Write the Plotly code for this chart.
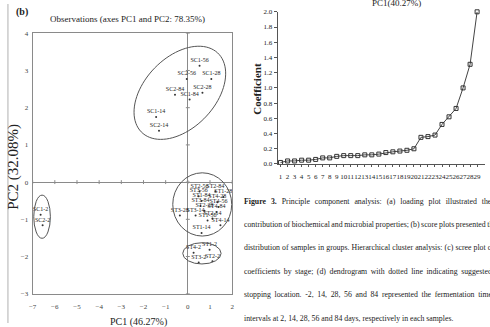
import numpy as np
import plotly.graph_objects as go

# ---------------- data ----------------
sample_labels = [
    "SC1-56", "SC2-56", "SC1-28", "SC2-28", "SC2-84", "SC1-84", "SC1-14", "SC2-14",
    "SC1-2", "SC2-2",
    "ST2-56", "ST2-84", "ST3-56", "ST1-28", "ST1-84", "ST4-28", "ST3-84", "ST4-56",
    "ST2-28", "ST4-84", "ST3-28", "ST3-14", "ST2-14", "ST1-56", "ST4-14", "ST1-14",
    "ST4-2", "ST1-2", "ST3-2", "ST2-2",
]
pc1_scores = [
    0.53, -0.05, 1.06, 0.66, -0.58, 0.08, -1.43, -1.30,
    -6.64, -6.55,
    0.53, 1.24, 0.49, 1.60, 0.62, 1.33, 0.57, 1.38,
    0.75, 1.29, -0.36, 0.35, 1.11, 0.89, 1.47, 0.62,
    0.26, 0.98, 0.49, 1.11,
]
pc2_scores = [
    3.13, 2.77, 2.77, 2.40, 2.35, 2.22, 1.75, 1.38,
    -0.88, -1.16,
    -0.25, -0.25, -0.38, -0.40, -0.51, -0.54, -0.64, -0.67,
    -0.77, -0.80, -0.90, -0.90, -0.98, -1.03, -1.16, -1.37,
    -1.90, -1.82, -2.16, -2.13,
]

stage = list(range(1, 30))
coefficient = [0.02, 0.04, 0.04, 0.05, 0.05, 0.06, 0.08, 0.08, 0.10, 0.11,
               0.11, 0.11, 0.12, 0.12, 0.13, 0.15, 0.16, 0.17, 0.18, 0.20,
               0.35, 0.36, 0.38, 0.52, 0.62, 0.73, 1.00, 1.31, 2.00]

x_ticks_left = list(range(-7, 3))
y_ticks_left = list(range(-3, 5))
y_ticks_right = [0.0, 0.2, 0.4, 0.6, 0.8, 1.0, 1.2, 1.4, 1.6, 1.8, 2.0]

caption_lines = [
    "<b>Figure 3.</b> Principle component analysis: (a) loading plot illustrated the",
    "contribution of biochemical and microbial properties; (b) score plots presented the",
    "distribution of samples in groups. Hierarchical cluster analysis: (c) scree plot of",
    "coefficients by stage; (d) dendrogram with dotted line indicating suggested",
    "stopping location. -2, 14, 28, 56 and 84 represented the fermentation time",
    "intervals at 2, 14, 28, 56 and 84 days, respectively in each samples.",
]

# ---------------- layout geometry ----------------
W, H = 490, 327
SERIF = "Liberation Serif, Times New Roman, serif"
GRAY = "#8a8a8a"
INK = "#222222"

xl_dom = [29 / W, 231 / W]
yl_dom = [1 - 297 / H, 1 - 30 / H]
xl_rng = [-7, 2]
yl_rng = [-3, 4]
px_x = (xl_dom[1] - xl_dom[0]) * W / (xl_rng[1] - xl_rng[0])
px_y = (yl_dom[1] - yl_dom[0]) * H / (yl_rng[1] - yl_rng[0])

xr_dom = [277 / W, 487 / W]
yr_dom = [1 - 164 / H, 1 - 8 / H]

fig = go.Figure()

# score plot
fig.add_trace(go.Scatter(
    x=pc1_scores, y=pc2_scores, text=sample_labels,
    mode="markers+text", textposition="top center",
    marker=dict(size=2, color="#333333"),
    textfont=dict(family=SERIF, size=6, color=INK),
    xaxis="x", yaxis="y", showlegend=False, cliponaxis=False,
))

# scree plot
fig.add_trace(go.Scatter(
    x=stage, y=coefficient, mode="lines+markers",
    line=dict(color="#444444", width=1),
    marker=dict(symbol="square-open", size=4, color="#333333", line=dict(width=1)),
    xaxis="x2", yaxis="y2", showlegend=False, cliponaxis=False,
))

shapes = []

# small cross ticks along the zero lines
for v in y_ticks_left:
    shapes.append(dict(type="line", xref="x", yref="y", x0=-2 / px_x, x1=2 / px_x,
                       y0=v, y1=v, line=dict(color=GRAY, width=1)))
for v in x_ticks_left:
    shapes.append(dict(type="line", xref="x", yref="y", x0=v, x1=v,
                       y0=-2 / px_y, y1=2 / px_y, line=dict(color=GRAY, width=1)))

# group ellipses (axis-aligned): x0, x1, y0, y1 in data units
ellipses = [
    (-6.95, -6.20, -0.35, -1.51),
    (-0.68, 1.98, 0.25, -1.45),
    (-0.23, 1.50, -1.63, -2.20),
]
for x0, x1, y0, y1 in ellipses:
    shapes.append(dict(type="circle", xref="x", yref="y", x0=x0, x1=x1, y0=y0, y1=y1,
                       line=dict(color="#555555", width=1)))

# tilted ellipse around the SC 14-84 group
cx, cy, a_px, b_px, ang = -0.36, 2.40, 56, 36, np.deg2rad(47)
t = np.linspace(0, 2 * np.pi, 90)
ex = cx + (a_px * np.cos(t) * np.cos(ang) - b_px * np.sin(t) * np.sin(ang)) / px_x
ey = cy + (a_px * np.cos(t) * np.sin(ang) + b_px * np.sin(t) * np.cos(ang)) / px_y
path = "M " + " L ".join(f"{a:.4f},{b:.4f}" for a, b in zip(ex, ey)) + " Z"
shapes.append(dict(type="path", xref="x", yref="y", path=path,
                   line=dict(color="#555555", width=1)))

# outer frame line on the far left
shapes.append(dict(type="line", xref="paper", yref="paper", x0=4 / W, x1=4 / W, y0=0, y1=1,
                   line=dict(color="#b0b0b0", width=1)))

annotations = [
    dict(text="<b>(b)</b>", x=10 / W, y=1 - 8 / H, xref="paper", yref="paper",
         xanchor="left", yanchor="middle", showarrow=False,
         font=dict(family=SERIF, size=10, color=INK)),
    dict(text="Observations (axes PC1 and PC2: 78.35%)", x=125 / W, y=1 - 15 / H,
         xref="paper", yref="paper", xanchor="center", yanchor="middle", showarrow=False,
         font=dict(family=SERIF, size=9, color=INK)),
    dict(text="PC2 (32.08%)", x=10 / W, y=1 - 167 / H, xref="paper", yref="paper",
         xanchor="center", yanchor="middle", textangle=-90, showarrow=False,
         font=dict(family=SERIF, size=15, color=INK)),
    dict(text="PC1 (46.27%)", x=105 / W, y=1 - 326 / H, xref="paper", yref="paper",
         xanchor="left", yanchor="middle", showarrow=False,
         font=dict(family=SERIF, size=10, color=INK)),
    dict(text="PC1(40.27%)", x=397 / W, y=1 + 1 / H, xref="paper", yref="paper",
         xanchor="center", yanchor="middle", showarrow=False,
         font=dict(family=SERIF, size=9, color=INK)),
    dict(text="<b>Coefficient</b>", x=256 / W, y=1 - 87 / H, xref="paper", yref="paper",
         xanchor="center", yanchor="middle", textangle=-90, showarrow=False,
         font=dict(family=SERIF, size=11, color=INK)),
]
cap_y = [202, 226, 250, 274, 298, 322]
cap_wordspace = [3.0, -0.4, 0.2, 1.6, 1.7, 0.0]   # emulate justified text
for line, yy, ws in zip(caption_lines, cap_y, cap_wordspace):
    annotations.append(dict(text=f'<span style="word-spacing:{ws}px">{line}</span>',
                            x=241 / W, y=1 - yy / H, xref="paper", yref="paper",
                            xanchor="left", yanchor="middle", showarrow=False,
                            font=dict(family=SERIF, size=7.8, color=INK)))

fig.update_layout(
    width=W, height=H, autosize=False,
    margin=dict(l=0, r=0, t=0, b=0),
    paper_bgcolor="white", plot_bgcolor="white",
    xaxis=dict(domain=xl_dom, range=xl_rng, tickvals=x_ticks_left, showgrid=False,
               zeroline=True, zerolinecolor=GRAY, zerolinewidth=1,
               showline=True, linecolor=GRAY, linewidth=1, mirror=True,
               ticks="outside", ticklen=6, tickcolor="rgba(0,0,0,0)",
               tickfont=dict(family=SERIF, size=7, color="#444444"), anchor="y"),
    yaxis=dict(domain=yl_dom, range=yl_rng, tickvals=y_ticks_left, showgrid=False,
               zeroline=True, zerolinecolor=GRAY, zerolinewidth=1,
               showline=True, linecolor=GRAY, linewidth=1, mirror=True,
               ticks="outside", ticklen=2, tickcolor="rgba(0,0,0,0)",
               tickfont=dict(family=SERIF, size=7, color="#444444"), anchor="x"),
    xaxis2=dict(domain=xr_dom, range=[0.58, 30.13], tickvals=stage, tickangle=0,
                showgrid=False, zeroline=False, showline=True, linecolor="#555555",
                linewidth=1, ticks="outside", ticklen=2, tickcolor="#555555",
                ticklabelstandoff=4,
                tickfont=dict(family=SERIF, size=7, color=INK), anchor="y2"),
    yaxis2=dict(domain=yr_dom, range=[0, 2], tickvals=y_ticks_right, tickformat=".1f",
                showgrid=False, zeroline=False, showline=True, linecolor="#555555",
                linewidth=1, ticks="outside", ticklen=3, tickcolor="#555555",
                tickfont=dict(family=SERIF, size=7, color=INK), anchor="x2"),
    shapes=shapes, annotations=annotations,
)

fig.write_html("out.html", config={"displayModeBar": False},
               post_script="document.body.style.margin='0';document.body.style.padding='0';")
